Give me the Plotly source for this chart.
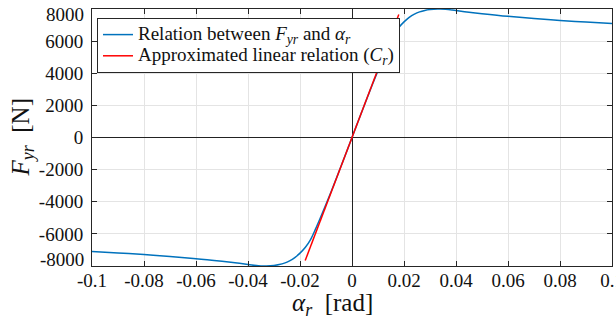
import plotly.graph_objects as go

# Tyre curve (rad, N)
alpha_pos = [0.0, 0.002, 0.004, 0.006, 0.008, 0.010, 0.012, 0.014, 0.016, 0.018,
             0.020, 0.022, 0.024, 0.026, 0.028, 0.030, 0.033, 0.036, 0.040, 0.045,
             0.050, 0.060, 0.070, 0.080, 0.090, 0.100]
force_pos = [0, 854, 1700, 2540, 3360, 4160, 4940, 5690, 6370, 6850,
             7200, 7480, 7680, 7820, 7910, 7965, 7995, 7985, 7900, 7800,
             7710, 7545, 7410, 7290, 7185, 7090]
alpha_curve = [-a for a in alpha_pos[:0:-1]] + alpha_pos
force_curve = [-f for f in force_pos[:0:-1]] + force_pos

# Linear approximation (C_r) end points
alpha_lin = [-0.018, 0.018]
force_lin = [-7660, 7660]

x_ticks = [-0.1, -0.08, -0.06, -0.04, -0.02, 0, 0.02, 0.04, 0.06, 0.08, 0.1]
x_labels = ["-0.1", "-0.08", "-0.06", "-0.04", "-0.02", "0", "0.02", "0.04", "0.06", "0.08", "0.1"]
y_ticks = [-8000, -6000, -4000, -2000, 0, 2000, 4000, 6000, 8000]
y_labels = ["", "-6000", "-4000", "-2000", "0", "2000", "4000", "6000", ""]

FONT = "Liberation Serif"
AX = "#262626"
TXT = "#111111"

def sub(s):
    return '<span style="font-size:72%;baseline-shift:-25%">' + s + '</span>'

def big(s):
    return '<span style="font-size:19px">' + s + '</span>'

fig = go.Figure()
fig.add_trace(go.Scatter(x=alpha_curve, y=force_curve, mode="lines", line_shape="spline",
                         line=dict(color="#0072BD", width=1.5),
                         name=big("Relation between <i>F" + sub("yr") + "</i> and <i>α" + sub("r") + "</i>")))
fig.add_trace(go.Scatter(x=alpha_lin, y=force_lin, mode="lines",
                         line=dict(color="#FF0000", width=1.5),
                         name=big("Approximated linear relation (<i>C" + sub("r") + "</i>)")))

axis_common = dict(showline=True, linecolor=AX, linewidth=1, mirror="ticks",
                   ticks="inside", ticklen=5, tickcolor=AX, automargin=False,
                   showgrid=True, gridcolor="#e4e4e4", gridwidth=1,
                   zeroline=True, zerolinecolor="#222222", zerolinewidth=1,
                   tickfont=dict(family=FONT, size=19, color=TXT))

fig.update_xaxes(range=[-0.1, 0.1], tickvals=x_ticks, ticktext=x_labels,
                 ticklabelstandoff=-3, ticklabeloverflow="allow", **axis_common)
fig.update_yaxes(range=[-8000, 8000], tickvals=y_ticks, ticktext=y_labels,
                 ticklabelstandoff=4, **axis_common)

for yv, txt in [(7640, "8000"), (-7600, "-8000")]:
    fig.add_annotation(x=0, xref="paper", y=yv, yref="y", text=txt, showarrow=False,
                       xanchor="right", xshift=-6, font=dict(family=FONT, size=19, color=TXT))

# axis titles
fig.add_annotation(x=(332 - 92) / 520, xref="paper", y=0, yref="paper",
                   text="<i>α" + sub("r") + "</i>  [rad]", showarrow=False,
                   xanchor="center", yanchor="middle", yshift=-38,
                   font=dict(family=FONT, size=25, color=TXT))
fig.add_annotation(x=0, xref="paper", y=0.5, yref="paper", textangle=-90,
                   text="<i>F" + sub("yr") + "</i>  [N]", showarrow=False,
                   xanchor="center", yanchor="middle", xshift=-70,
                   font=dict(family=FONT, size=25, color=TXT))

fig.update_layout(width=616, height=320,
                  margin=dict(l=92, r=4, t=9, b=54),
                  paper_bgcolor="white", plot_bgcolor="white",
                  showlegend=True,
                  legend=dict(x=0.0096, y=0.965, xanchor="left", yanchor="top",
                              bgcolor="white", bordercolor=AX, borderwidth=1,
                              font=dict(family=FONT, size=14, color=TXT),
                              tracegroupgap=0, itemwidth=30))

fig.write_html("out.html", config={"displayModeBar": False},
               post_script="document.body.style.margin='0px';")
